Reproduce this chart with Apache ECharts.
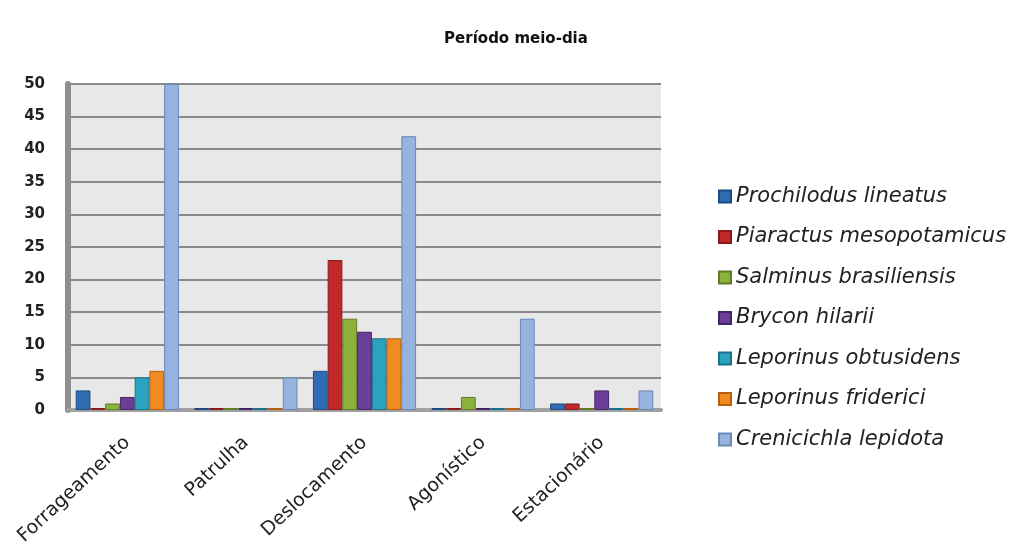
<!DOCTYPE html>
<html><head><meta charset="utf-8">
<script src="https://cdn.jsdelivr.net/npm/echarts@6/dist/echarts.min.js"></script>
<style>html,body{margin:0;padding:0;background:#fff}#c{width:1019px;height:550px}</style>
</head><body><div id="c"></div>
<script>
const categories = ['Forrageamento','Patrulha','Deslocamento','Agonístico','Estacionário'];
const seriesNames = ['Prochilodus lineatus','Piaractus mesopotamicus','Salminus brasiliensis','Brycon hilarii','Leporinus obtusidens','Leporinus friderici','Crenicichla lepidota'];
const prochilodus = [3,0,6,0,1];
const piaractus   = [0,0,23,0,1];
const salminus    = [1,0,14,2,0];
const brycon      = [2,0,12,0,3];
const leporinusO  = [5,0,11,0,0];
const leporinusF  = [6,0,11,0,0];
const crenicichla = [50,5,42,14,3];
const yTicks = [0,5,10,15,20,25,30,35,40,45,50];

const values = [prochilodus,piaractus,salminus,brycon,leporinusO,leporinusF,crenicichla];
const colors = ['#2f6db3','#c0282a','#8cb23c','#6b3f98','#2aa2c2','#f28a22','#96b3df'];
const borders = ['#1d4a80','#8a1a1c','#5f7d24','#45256a','#1a7189','#b85f10','#6a88b8'];

const chart = echarts.init(document.getElementById('c'));
chart.setOption({
  animation:false,
  backgroundColor:'#fff',
  title:{text:'Período meio-dia',left:511,top:27,textAlign:'center',
    textStyle:{fontFamily:'DejaVu Sans',fontWeight:'bold',fontSize:15,color:'#111'}},
  legend:{orient:'vertical',left:713,top:181,itemGap:19.5,itemWidth:12,itemHeight:12,
    icon:'rect',
    textStyle:{fontFamily:'DejaVu Sans',fontStyle:'italic',fontSize:21,color:'#222',padding:[0,0,0,0]},
    data:seriesNames},
  grid:{left:68,right:358,top:84,bottom:140,show:true,backgroundColor:'#e8e8e8',borderWidth:0},
  xAxis:{type:'category',data:categories,
    axisLine:{show:true,lineStyle:{color:'#a0a0a0',width:4}},
    axisTick:{show:false},
    axisLabel:{rotate:43,margin:30,fontFamily:'DejaVu Sans',fontSize:19,color:'#222'}},
  yAxis:{type:'value',min:0,max:50,interval:5,
    axisLine:{show:true,lineStyle:{color:'#8e8e8e',width:6}},
    axisTick:{show:false},
    splitLine:{lineStyle:{color:'#8a8a8a',width:2}},
    axisLabel:{margin:23,fontFamily:'DejaVu Sans',fontSize:15,color:'#222',fontWeight:'bold',
      formatter:v=>yTicks.includes(v)?String(v):''}},
  series:seriesNames.map((n,i)=>({
    name:n,type:'bar',data:values[i],barGap:'0%',barCategoryGap:'13%',barMinHeight:2,
    itemStyle:{color:colors[i],borderColor:borders[i],borderWidth:1}
  }))
});
</script></body></html>
